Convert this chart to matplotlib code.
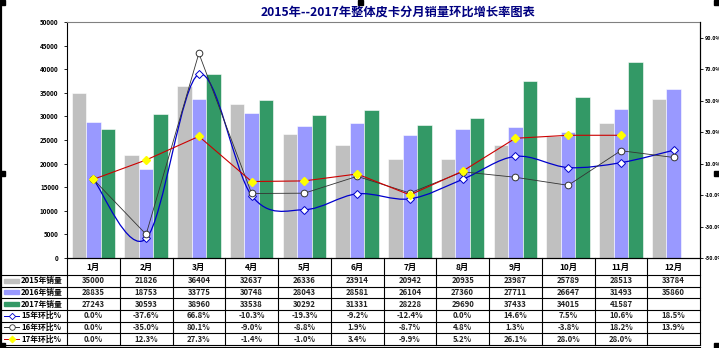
import matplotlib.pyplot as plt
import numpy as np
from matplotlib.path import Path
from matplotlib.patches import PathPatch, Rectangle

plt.rcParams['font.family'] = ['Noto Sans CJK SC', 'DejaVu Sans']

months = ['1月', '2月', '3月', '4月', '5月', '6月', '7月', '8月', '9月', '10月', '11月', '12月']
sales_2015 = [35000, 21826, 36404, 32637, 26336, 23914, 20942, 20935, 23987, 25789, 28513, 33784]
sales_2016 = [28835, 18753, 33775, 30748, 28043, 28581, 26104, 27360, 27711, 26647, 31493, 35860]
sales_2017 = [27243, 30593, 38960, 33538, 30292, 31331, 28228, 29690, 37433, 34015, 41587]
mom_15 = [0.0, -37.6, 66.8, -10.3, -19.3, -9.2, -12.4, 0.0, 14.6, 7.5, 10.6, 18.5]
mom_16 = [0.0, -35.0, 80.1, -9.0, -8.8, 1.9, -8.7, 4.8, 1.3, -3.8, 18.2, 13.9]
mom_17 = [0.0, 12.3, 27.3, -1.4, -1.0, 3.4, -9.9, 5.2, 26.1, 28.0, 28.0]

title = '2015年--2017年整体皮卡分月销量环比增长率图表'
row_labels = ['2015年销量', '2016年销量', '2017年销量', '15年环比%', '16年环比%', '17年环比%']

c_gray = '#C0C0C0'
c_blue = '#9999FF'
c_green = '#339966'
c_line15 = '#0000CC'
c_line16 = '#333333'
c_line17 = '#CC0000'

W, H = 719, 348
fig = plt.figure(figsize=(W / 100, H / 100), dpi=100)

# plot area in pixels
px_l, px_r, px_t, px_b = 67, 700, 22, 258
ax = fig.add_axes([px_l / W, 1 - px_b / H, (px_r - px_l) / W, (px_b - px_t) / H])

x = np.arange(12)
bw = 0.275
ax.bar(x - bw, sales_2015, bw, color=c_gray, edgecolor='white', linewidth=0.4)
ax.bar(x, sales_2016, bw, color=c_blue, edgecolor='white', linewidth=0.4)
ax.bar(np.arange(len(sales_2017)) + bw, sales_2017, bw, color=c_green, edgecolor='white', linewidth=0.4)

ax.set_xlim(-0.5, 11.5)
ax.set_ylim(0, 50000)
ax.set_yticks(range(0, 50001, 5000))
ax.set_yticklabels([str(v) for v in range(0, 50001, 5000)], fontsize=4.5, fontweight='bold')
ax.set_xticks([])
ax.tick_params(axis='y', length=2, width=0.6, pad=4)
ax.spines['top'].set_color('#808080')
ax.spines['top'].set_linewidth(0.8)
for s in ['left', 'right', 'bottom']:
    ax.spines[s].set_color('black')
    ax.spines[s].set_linewidth(0.8)

ax2 = ax.twinx()
ax2.set_ylim(-50, 100)
ax2.set_yticks(range(-50, 91, 20))
ax2.set_yticklabels([f'{v:.1f}%' for v in range(-50, 91, 20)], fontsize=3.9, fontweight='bold')
ax2.tick_params(axis='y', length=2, width=0.6, pad=1.5)
ax2.spines['top'].set_visible(False)
ax2.spines['left'].set_visible(False)
ax2.spines['right'].set_color('black')
ax2.spines['right'].set_linewidth(0.8)


def smooth_path(xs, ys):
    pts = np.column_stack([xs, ys]).astype(float)
    verts = [pts[0]]
    codes = [Path.MOVETO]
    n = len(pts)
    for i in range(n - 1):
        p0 = pts[i - 1] if i > 0 else pts[i]
        p1 = pts[i]
        p2 = pts[i + 1]
        p3 = pts[i + 2] if i + 2 < n else pts[i + 1]
        verts += [p1 + (p2 - p0) / 6, p2 - (p3 - p1) / 6, p2]
        codes += [Path.CURVE4] * 3
    return Path(verts, codes)


# 15年 smooth line
ax2.add_patch(PathPatch(smooth_path(x, mom_15), facecolor='none', edgecolor=c_line15, linewidth=0.9))
ax2.plot(x, mom_15, linestyle='none', marker='D', markersize=3.8, markerfacecolor='white',
         markeredgecolor=c_line15, markeredgewidth=0.7)
# 16年
ax2.plot(x, mom_16, color=c_line16, linewidth=0.6, marker='o', markersize=4.8,
         markerfacecolor='white', markeredgecolor=c_line16, markeredgewidth=0.7)
# 17年
x17 = np.arange(len(mom_17))
ax2.plot(x17, mom_17, color=c_line17, linewidth=0.8, marker='D', markersize=4.2,
         markerfacecolor='#FFFF00', markeredgecolor='#FFFF00')

# title
fig.text(398 / W, 1 - 12 / H, title, ha='center', va='center', fontsize=8.8,
         fontweight='bold', color='#000080')

# data table drawn in pixel coordinates
tax = fig.add_axes([0, 0, 1, 1])
tax.set_xlim(0, W)
tax.set_ylim(H, 0)
tax.axis('off')
tax.patch.set_visible(False)

colw = (px_r - px_l) / 12
row_y = [275 + i * 11.65 for i in range(7)]
lk = dict(color='black', linewidth=0.8)
for k in range(13):
    tax.plot([px_l + k * colw] * 2, [px_b, row_y[-1]], **lk)
for yy in row_y:
    tax.plot([1, px_r], [yy, yy], **lk)
tax.plot([1, px_r], [row_y[-1] + 2, row_y[-1] + 2], **lk)
tax.plot([1, 1], [0, row_y[-1] + 2], color='black', linewidth=1.6)

for k, m in enumerate(months):
    tax.text(px_l + (k + 0.5) * colw, (px_b + row_y[0]) / 2 + 0.5, m, ha='center', va='center',
             fontsize=6, fontweight='bold')

rows = [sales_2015, sales_2016, sales_2017, mom_15, mom_16, mom_17]
for r, vals in enumerate(rows):
    yc = (row_y[r] + row_y[r + 1]) / 2
    for k, v in enumerate(vals):
        s = f'{v:.1f}%' if r >= 3 else str(v)
        tax.text(px_l + (k + 0.5) * colw, yc, s, ha='center', va='center',
                 fontsize=5.6, fontweight='bold', color='#222222')
    tax.text(21, yc, row_labels[r], ha='left', va='center', fontsize=5.6, fontweight='bold')

# legend keys
key_cols = [c_gray, c_blue, c_green]
for r in range(3):
    yc = (row_y[r] + row_y[r + 1]) / 2
    tax.add_patch(Rectangle((4, yc - 2), 15, 4, color=key_cols[r]))
key_lines = [(c_line15, 'D', 'white', c_line15, 3.2), (c_line16, 'o', 'white', c_line16, 4),
             (c_line17, 'D', '#FFFF00', '#FFFF00', 3.5)]
for r, (lc, mk, mf, me, ms) in enumerate(key_lines):
    yc = (row_y[r + 3] + row_y[r + 4]) / 2
    tax.plot([4, 19], [yc, yc], color=lc, linewidth=0.7)
    tax.plot([11.5], [yc], marker=mk, markersize=ms, markerfacecolor=mf, markeredgecolor=me,
             markeredgewidth=0.6)

# selection handles
for hx, hy in [(0, 0), (358, 0), (714, 0), (0, 171), (714, 171), (0, 343), (714, 343)]:
    tax.add_patch(Rectangle((hx, hy), 5, 5, color='black'))

fig.savefig('out.png', dpi=100)
